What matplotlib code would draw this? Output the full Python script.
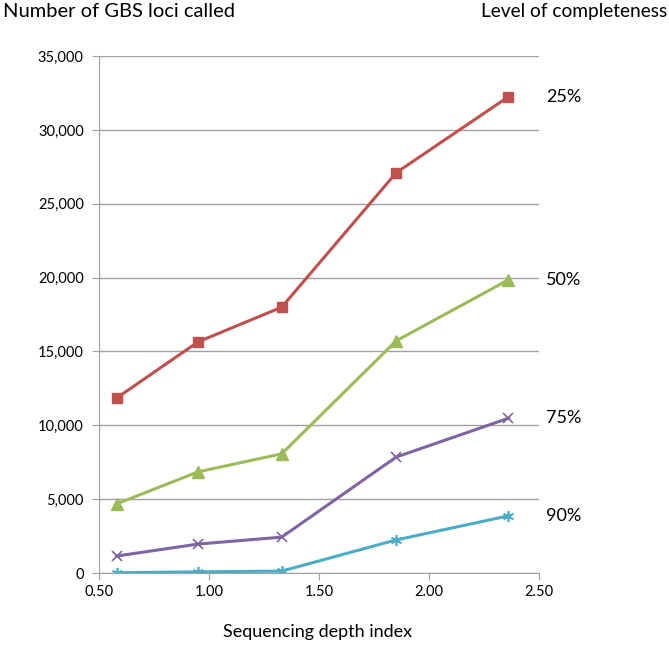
import matplotlib
matplotlib.use('Agg')
import matplotlib.pyplot as plt
from matplotlib.ticker import FuncFormatter

plt.rcParams['font.family'] = ['Lato', 'DejaVu Sans']

depth = [0.58, 0.95, 1.33, 1.85, 2.36]
loci_25 = [11850, 15650, 18000, 27100, 32250]
loci_50 = [4680, 6850, 8070, 15720, 19850]
loci_75 = [1150, 1960, 2430, 7850, 10480]
loci_90 = [20, 80, 130, 2240, 3870]
levels = ['25%', '50%', '75%', '90%']

fig = plt.figure(figsize=(6.69, 6.45), dpi=100)
ax = fig.add_axes([0.148, 0.1116, 0.658, 0.8014])

lw = 2.2
ax.plot(depth, loci_25, color='#C0504D', marker='s', markersize=7.5, lw=lw)
ax.plot(depth, loci_50, color='#9BBB59', marker='^', markersize=8, lw=lw)
ax.plot(depth, loci_75, color='#8064A2', marker='x', markersize=7.5, mew=1.2, lw=lw)
ax.plot(depth, loci_90, color='#4BACC6', marker=(6, 2, 0), markersize=8, mew=1.2, lw=lw)

ax.set_xlim(0.5, 2.5)
ax.set_ylim(0, 35000)
ax.set_xticks([0.5, 1.0, 1.5, 2.0, 2.5])
ax.set_yticks(range(0, 35001, 5000))
ax.xaxis.set_major_formatter(FuncFormatter(lambda v, p: '%.2f' % v))
ax.yaxis.set_major_formatter(FuncFormatter(lambda v, p: '{:,}'.format(int(v))))
ax.grid(True, axis='y', color='#A0A0A0', lw=1.0)
ax.set_axisbelow(True)
for s in ['top', 'right']:
    ax.spines[s].set_visible(False)
ax.spines['left'].set_color('#A0A0A0')
ax.spines['bottom'].set_color('#A0A0A0')
ax.tick_params(axis='both', colors='#A0A0A0', labelcolor='black', labelsize=10.5, length=5)
ax.tick_params(axis='y', pad=6)

# right-side labels next to the last point of each series
for lab, ys in zip(levels, [loci_25, loci_50, loci_75, loci_90]):
    ax.annotate(lab, xy=(depth[-1], ys[-1]), xytext=(27, 0), textcoords='offset points',
                va='center', ha='left', fontsize=13)

fig.text(0.005, 0.982, 'Number of GBS loci called', fontsize=14.5, va='center', ha='left')
fig.text(0.997, 0.982, 'Level of completeness', fontsize=13.8, va='center', ha='right')
fig.text(0.475, 0.02, 'Sequencing depth index', fontsize=13, va='center', ha='center')

fig.savefig('out.png', dpi=100, facecolor='white')
